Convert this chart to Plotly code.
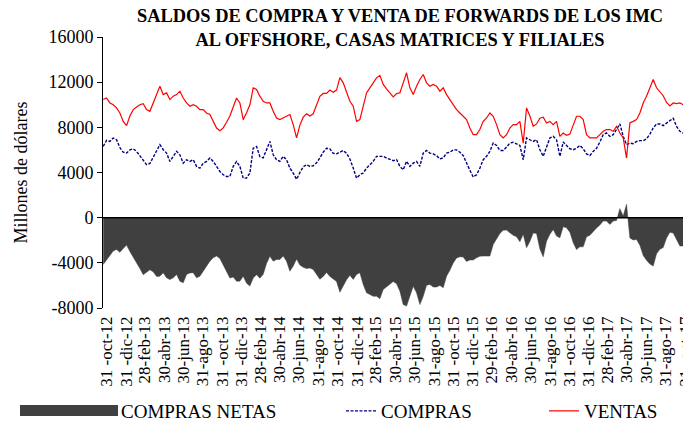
import pandas as pd
import plotly.graph_objects as go

# ---- data (millones de dólares), ~10.5-day sampling ----
start_date = "2012-10-20"
step = "10D12h36min"

ventas = [
    10460, 10600, 10160, 10000, 9720, 9270, 8530, 8150, 9000, 9570,
    9800, 10000, 10100, 9570, 9420, 10150, 11000, 11640, 10900, 11050,
    10460, 10760, 10900, 11200, 10600, 10160, 9870, 10010, 9870, 9570,
    9570, 9270, 9130, 8530, 7940, 7700, 7950, 8450, 9000, 9800,
    10600, 10160, 8680, 9300, 10000,
    11500, 11350, 10760, 10310, 10160, 10160, 9420, 8830, 8680, 8830,
    8980, 9130, 8240, 7060, 8200, 8900, 9200, 9000, 9200, 9900,
    10750, 11000, 11000, 11300, 11100, 11300, 12400, 11940, 11200, 10310,
    9870, 8530, 8680, 9870, 11050, 11500, 11940, 12380, 12600, 11800,
    11400, 11050, 10700, 11000,
    11050, 11940, 12830, 11500, 10900, 11640, 12240, 12680, 11940, 11640,
    11790, 11640, 11200, 11500, 10900, 10460, 10010, 9570, 9270, 8980,
    8680, 7940, 7350, 7350, 7800, 8530, 8830, 9270, 8980, 8240,
    7350, 7060, 7350, 7940, 8240, 8240, 8530, 6600, 9720, 9000,
    8100, 8300, 8800, 8900,
    8390, 8530, 8240, 8530, 7200, 7500, 7300, 7400, 8240, 8980,
    8980, 8680, 7350, 7060, 7060, 7060, 7350, 7650, 7800, 7800,
    7650, 8090, 7500, 7060, 5280, 8390, 8530, 8680, 9270, 10160,
    10760, 11500, 12240, 11500, 11100, 10800, 10200, 9900, 10160, 10100,
    10160, 10000, 10900,
]

compras = [
    6310, 6850, 6750, 7050, 6900, 6200, 5800, 5720, 6000, 6100,
    5870, 5500, 5050, 4700, 4800, 5350, 5800, 6460, 6020, 5720,
    4980, 5430, 5870, 5570, 4830, 5130, 4980, 5130, 4540, 4390,
    4830, 4980, 5280, 4980, 4540, 4090, 3800, 3650, 3650, 4540,
    4980, 4540, 3500, 3500, 3950,
    6160, 6300, 5400, 5300, 6100, 6750, 5570, 5130, 4980, 5430,
    5130, 4390, 3950, 3400, 4000, 4500, 4700, 4540, 4600, 4850,
    5300, 5800, 6150, 6100, 5700, 5650, 5800, 5950, 5700, 5200,
    4400, 3500, 3800, 3950, 4390, 4690, 4980, 5430, 5430, 5430,
    5280, 5130, 5050, 5150,
    4540, 4240, 5000, 4540, 4830, 4980, 4540, 5720, 5950, 5720,
    5650, 5500, 5200, 5300, 5720, 5800, 6000, 6000, 5800, 5500,
    4800, 4200, 3600, 3800, 4390, 5130, 5430, 5870, 6610, 6400,
    5950, 5950, 6250, 6600, 6680, 6550, 6400, 5130, 7060, 6900,
    6750, 6900, 6020, 5430,
    6310, 7060, 7200, 6900, 5430, 6700, 6400, 6100, 6020, 6150,
    6400, 6100, 5650, 5500, 5870, 6150, 6700, 7350, 7500, 7200,
    7350, 7850, 8300, 7200, 6460, 6600, 6550, 6750, 6820, 6820,
    6980, 7400, 7950, 8300, 8300, 8150, 8400, 8600, 8800, 8090,
    7650, 7500, 7700,
]

tick_dates = [
    "2012-10-31", "2012-12-31", "2013-02-28", "2013-04-30", "2013-06-30", "2013-08-31",
    "2013-10-31", "2013-12-31", "2014-02-28", "2014-04-30", "2014-06-30", "2014-08-31",
    "2014-10-31", "2014-12-31", "2015-02-28", "2015-04-30", "2015-06-30", "2015-08-31",
    "2015-10-31", "2015-12-31", "2016-02-29", "2016-04-30", "2016-06-30", "2016-08-31",
    "2016-10-31", "2016-12-31", "2017-02-28", "2017-04-30", "2017-06-30", "2017-08-31",
    "2017-10-31",
]
tick_labels = [
    "31 -oct-12", "31 -dic-12", "28-feb-13", "30-abr-13", "30-jun-13", "31-ago-13",
    "31 -oct-13", "31 -dic-13", "28-feb-14", "30-abr-14", "30-jun-14", "31-ago-14",
    "31 -oct-14", "31 -dic-14", "28-feb-15", "30-abr-15", "30-jun-15", "31-ago-15",
    "31 -oct-15", "31 -dic-15", "29-feb-16", "30-abr-16", "30-jun-16", "31-ago-16",
    "31 -oct-16", "31 -dic-16", "28-feb-17", "30-abr-17", "30-jun-17", "31-ago-17",
    "31 -oct-17",
]
y_ticks = [-8000, -4000, 0, 4000, 8000, 12000, 16000]
y_labels = ["-8000", "-4000", "0", "4000", "8000", "12000", "16000"]

dates = pd.date_range(start=start_date, periods=len(ventas), freq=step)
netas = [c - v for c, v in zip(compras, ventas)]

FONT = "Liberation Serif, Times New Roman, serif"
GRAY = "#404040"

fig = go.Figure()
fig.add_trace(go.Scatter(
    x=dates, y=netas, name="COMPRAS NETAS", mode="lines",
    fill="tozeroy", fillcolor=GRAY, line=dict(color=GRAY, width=0.5),
    showlegend=False,
))
fig.add_trace(go.Scatter(
    x=dates, y=compras, name="COMPRAS", mode="lines",
    line=dict(color="#000080", width=1.4, dash="3px,1.5px"),
    legend="legend",
))
fig.add_trace(go.Scatter(
    x=dates, y=ventas, name="VENTAS", mode="lines",
    line=dict(color="#FF0000", width=1.2),
    legend="legend2",
))

fig.add_hline(y=0, line=dict(color="black", width=1.5), layer="above")

# The page places the figure 8px in from the top-left corner; layout below is
# expressed in on-screen pixels and converted.
OFF = 8
L, R, T, B = 103, 690, 37, 308          # plot area on screen
PW, PH = float(R - L), float(B - T)


def px(xpix):
    return (xpix - L) / PW


def py(ypix):
    return (B - ypix) / PH


# title (two centred lines)
fig.add_annotation(
    text="<b>SALDOS DE COMPRA Y VENTA DE FORWARDS DE LOS IMC<br>AL OFFSHORE, CASAS MATRICES Y FILIALES</b>",
    xref="paper", yref="paper", x=px(400), y=py(28), xanchor="center", yanchor="middle",
    showarrow=False, align="center",
    font=dict(family=FONT, size=18.4, color="black"),
)

# legend swatch + label for the filled series
fig.add_shape(type="rect", xref="paper", yref="paper",
              x0=px(20), x1=px(118), y0=py(405), y1=py(416),
              fillcolor=GRAY, line=dict(width=0))
fig.add_annotation(text="COMPRAS NETAS", xref="paper", yref="paper",
                   x=px(119), y=py(411), xanchor="left", yanchor="middle",
                   showarrow=False, font=dict(family=FONT, size=19, color="black"))

leg_common = dict(orientation="h", yanchor="middle", xanchor="left",
                  font=dict(family=FONT, size=19, color="black"),
                  bgcolor="rgba(0,0,0,0)", itemwidth=30)

W, H = 691, 423
fig.update_layout(
    width=W, height=H,
    margin=dict(l=L - OFF, r=W - (R - OFF), t=T - OFF, b=H - (B - OFF), autoexpand=False),
    paper_bgcolor="white", plot_bgcolor="white",
    font=dict(family=FONT, color="black"),
    legend=dict(x=px(341), y=py(411), **leg_common),
    legend2=dict(x=px(544), y=py(411), **leg_common),
    xaxis=dict(
        type="date", automargin=False,
        range=["2012-10-19 07:00", "2017-11-15 19:00"],
        tickmode="array", tickvals=tick_dates, ticktext=tick_labels,
        tickangle=-90, tickfont=dict(family=FONT, size=17, color="black"),
        showgrid=False, zeroline=False, showline=False, ticks="",
        ticklabelstandoff=4, ticklabeloverflow="allow",
    ),
    yaxis=dict(
        range=[-8000, 16000], tickmode="array", tickvals=y_ticks, ticktext=y_labels,
        automargin=False,
        tickfont=dict(family=FONT, size=18, color="black"),
        showgrid=False, zeroline=False,
        showline=True, linecolor="black", linewidth=1,
        ticks="outside", ticklen=5, tickcolor="black",
        title=dict(text="Millones de dólares", font=dict(family=FONT, size=18, color="black"), standoff=16),
    ),
)

fig.write_html("out.html")
